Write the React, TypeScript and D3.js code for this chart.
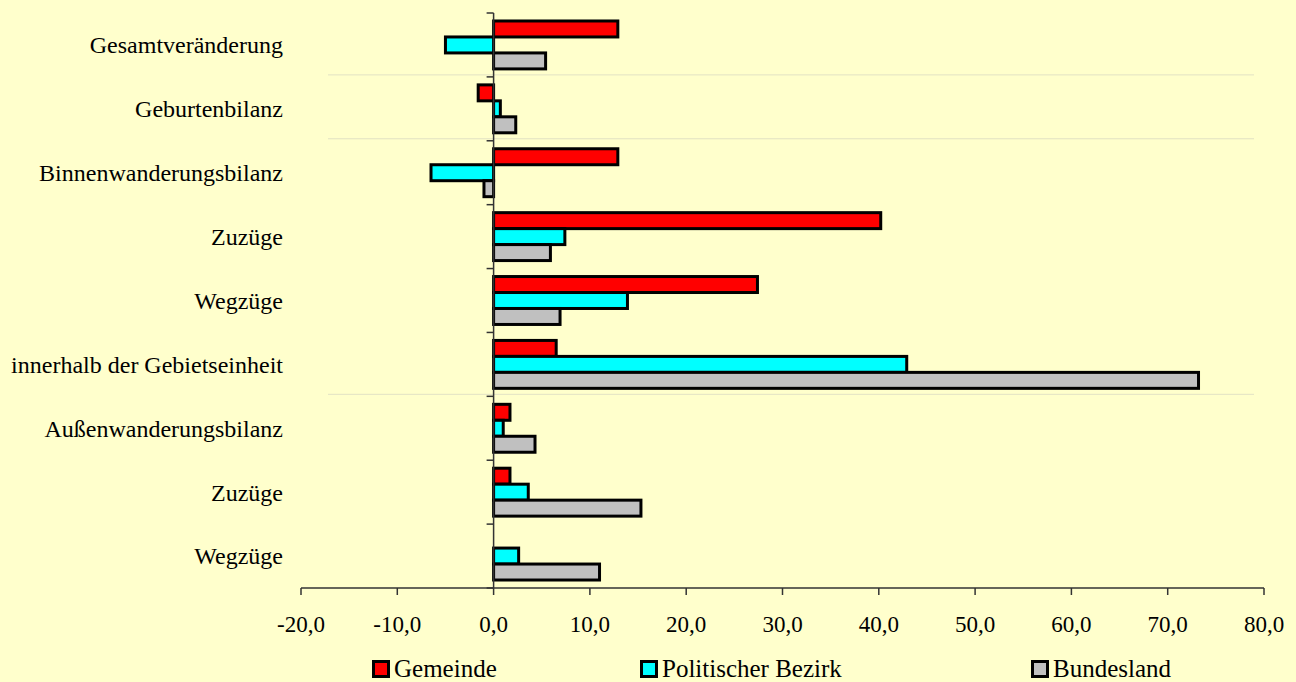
import React, { useRef, useEffect } from 'react';
import * as d3 from 'd3';

const categories = [
  'Gesamtveränderung',
  'Geburtenbilanz',
  'Binnenwanderungsbilanz',
  'Zuzüge',
  'Wegzüge',
  'innerhalb der Gebietseinheit',
  'Außenwanderungsbilanz',
  'Zuzüge ',
  'Wegzüge ',
];
const seriesNames = ['Gemeinde', 'Politischer Bezirk', 'Bundesland'];
const gemeinde = [12.9, -1.6, 12.9, 40.2, 27.4, 6.5, 1.7, 1.7, 0];
const bezirk = [-5.0, 0.7, -6.5, 7.4, 13.9, 42.9, 1.0, 3.6, 2.6];
const bundesland = [5.4, 2.3, -1.0, 5.9, 6.9, 73.2, 4.3, 15.3, 11.0];
const xTicks = [-20, -10, 0, 10, 20, 30, 40, 50, 60, 70, 80];
// separators drawn after these category indexes
const separators = [0, 1, 5];

const colors = ['#FF0000', '#00FFFF', '#C0C0C0'];

const App = () => {
  const svgRef = useRef<SVGSVGElement>(null);

  useEffect(() => {
    const width = 1296;
    const height = 682;
    const left = 301, right = 1264, top = 13, bottom = 588;
    const font = '"Liberation Serif", "Times New Roman", serif';

    const svg = d3.select(svgRef.current);
    svg.selectAll('*').remove();
    svg.attr('width', width).attr('height', height);

    svg.append('rect').attr('width', width).attr('height', height).attr('fill', '#FFFFCC');

    const x = d3.scaleLinear().domain([-20, 80]).range([left, right]);
    const y = d3.scaleBand<string>()
      .domain(categories)
      .range([top, bottom])
      .paddingInner(0.25)
      .paddingOuter(0.125);
    const ys = d3.scaleBand<string>().domain(seriesNames).range([0, y.bandwidth()]);

    // separators
    svg.append('g')
      .selectAll('line')
      .data(separators)
      .enter()
      .append('line')
      .attr('x1', 328)
      .attr('x2', 1254)
      .attr('y1', (i) => top + y.step() * (i + 1) - 2)
      .attr('y2', (i) => top + y.step() * (i + 1) - 2)
      .attr('stroke', '#E2E2C4')
      .attr('stroke-width', 1);

    const series = [gemeinde, bezirk, bundesland];
    const x0 = x(0);
    series.forEach((vals, si) => {
      svg.append('g')
        .selectAll('rect')
        .data(vals.map((v, i) => ({ v, c: categories[i] })).filter((d) => d.v !== 0))
        .enter()
        .append('rect')
        .attr('x', (d) => Math.min(x(d.v), x0))
        .attr('width', (d) => Math.abs(x(d.v) - x0))
        .attr('y', (d) => (y(d.c) as number) + (ys(seriesNames[si]) as number))
        .attr('height', ys.bandwidth())
        .attr('fill', colors[si])
        .attr('stroke', '#000')
        .attr('stroke-width', 3);
    });

    // y axis
    const axisColor = '#333';
    svg.append('line')
      .attr('x1', x0).attr('x2', x0).attr('y1', top).attr('y2', bottom)
      .attr('stroke', axisColor).attr('stroke-width', 1.5);
    svg.append('g')
      .selectAll('line')
      .data(d3.range(categories.length + 1))
      .enter()
      .append('line')
      .attr('x1', x0 - 7).attr('x2', x0)
      .attr('y1', (i) => top + y.step() * i)
      .attr('y2', (i) => top + y.step() * i)
      .attr('stroke', axisColor).attr('stroke-width', 1.5);

    svg.append('g')
      .selectAll('text')
      .data(categories)
      .enter()
      .append('text')
      .attr('x', 283)
      .attr('y', (d) => (y(d) as number) + y.bandwidth() / 2)
      .attr('dy', '0.35em')
      .attr('text-anchor', 'end')
      .attr('font-family', font)
      .attr('font-size', 24)
      .text((d) => d.trim());

    // x axis
    svg.append('line')
      .attr('x1', left).attr('x2', right).attr('y1', bottom).attr('y2', bottom)
      .attr('stroke', axisColor).attr('stroke-width', 1.5);
    const xt = svg.append('g').selectAll('g').data(xTicks).enter().append('g');
    xt.append('line')
      .attr('x1', (d) => x(d)).attr('x2', (d) => x(d))
      .attr('y1', bottom).attr('y2', bottom + 7)
      .attr('stroke', axisColor).attr('stroke-width', 1.5);
    xt.append('text')
      .attr('x', (d) => x(d))
      .attr('y', 632)
      .attr('text-anchor', 'middle')
      .attr('font-family', font)
      .attr('font-size', 23)
      .text((d) => d.toFixed(1).replace('.', ','));

    // legend
    const legendX = [372, 640, 1031];
    const lg = svg.append('g').selectAll('g').data(seriesNames).enter().append('g')
      .attr('transform', (d, i) => `translate(${legendX[i]},660)`);
    lg.append('rect')
      .attr('x', 1.5).attr('y', 1.5).attr('width', 15).attr('height', 15)
      .attr('fill', (d, i) => colors[i])
      .attr('stroke', '#000').attr('stroke-width', 3);
    lg.append('text')
      .attr('x', 22).attr('y', 17)
      .attr('font-family', font)
      .attr('font-size', 25)
      .text((d) => d);
  }, []);

  return <svg ref={svgRef} style={{ position: 'absolute', left: 0, top: 0 }} />;
};

export default App;
